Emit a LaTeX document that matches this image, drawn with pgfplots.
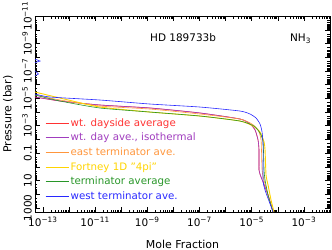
\documentclass[border=0pt]{standalone}
\usepackage{fontspec}
\setmainfont{DejaVu Sans}
\usepackage{pgfplots}
\pgfplotsset{compat=1.18}
\definecolor{cred}{RGB}{255,50,50}
\definecolor{cpurple}{RGB}{160,60,190}
\definecolor{corange}{RGB}{255,150,60}
\definecolor{cyellow}{RGB}{255,212,0}
\definecolor{cgreen}{RGB}{40,150,40}
\definecolor{cblue}{RGB}{40,40,255}
\begin{document}
\begin{tikzpicture}
\path[use as bounding box] (0,0) rectangle (332bp,250bp);
\begin{axis}[
  at={(35bp,38bp)}, anchor=south west,
  width=295bp, height=196bp, scale only axis,
  xmode=log, ymode=log,
  xmin=5e-14, xmax=1e-2, ymin=1e-11, ymax=2000,
  y dir=reverse,
  tick align=inside, xtick pos=both, ytick pos=both,
  major tick length=5bp, minor tick length=2.5bp,
  axis line style={line width=0.5pt},
  every tick/.style={black, line width=0.4pt},
  font=\fontsize{10.5}{12}\selectfont,
  xtick={1e-13,1e-12,1e-11,1e-10,1e-9,1e-8,1e-7,1e-6,1e-5,1e-4,1e-3,1e-2},
  xticklabels={{10\textsuperscript{−13}},{},{10\textsuperscript{−11}},{},{10\textsuperscript{−9}},{},{10\textsuperscript{−7}},{},{10\textsuperscript{−5}},{},{10\textsuperscript{−3}},{}},
  ytick={1e-11,1e-10,1e-9,1e-8,1e-7,1e-6,1e-5,1e-4,1e-3,1e-2,1e-1,1,10,100,1000},
  yticklabels={{10\textsuperscript{−11}},{},{10\textsuperscript{−9}},{},{10\textsuperscript{−7}},{},{10\textsuperscript{−5}},{},{10\textsuperscript{−3}},{},{0.1},{},{10},{},{1000}},
  yticklabel style={rotate=90, anchor=south, inner sep=0pt, yshift=3bp},
  xticklabel shift=2bp,
  every axis x label/.style={at={(axis description cs:0.5,0)}, anchor=north, yshift=-25bp},
  every axis y label/.style={at={(axis description cs:-0.092,0.5)}, rotate=90, anchor=center},
  xlabel={Mole Fraction},
  ylabel={Pressure (bar)},
  label style={font=\fontsize{11}{13}\selectfont},
  legend image code/.code={\draw[#1] (0bp,0bp) -- (23bp,0bp);},
  legend cell align=left,
  legend style={at={(axis description cs:0.034,0.487)}, anchor=north west, draw=none, fill=none,
    inner sep=0pt, row sep=2.4bp, font=\fontsize{10.3}{11}\selectfont,
    nodes={inner sep=1.5bp}},
  every axis plot/.append style={line width=0.6pt, smooth, tension=0.35},
]
\addplot[cred] coordinates {(5e-14,8.17e-6)(4.55e-13,1.6e-5)(1.55e-11,3.13e-5)(1.28e-9,5.19e-5)(1.05e-7,1.2e-4)(3.58e-6,3.3e-4)(8.65e-6,7.64e-4)(1.35e-5,2.09e-3)(1.75e-5,1.12e-2)(1.91e-5,6.04e-2)(1.91e-5,1.74)(2.29e-5,5.65)(2.73e-5,13.1)(4.24e-5,116)(6.59e-5,2000)};
\addlegendentry{\textcolor{cred}{wt. dayside average}}
\addplot[cpurple] coordinates {(5e-14,8.0e-6)(4.55e-13,1.58e-5)(1.55e-11,3.1e-5)(1.28e-9,5.1e-5)(1.05e-7,1.18e-4)(3.58e-6,3.25e-4)(8.65e-6,7.5e-4)(1.35e-5,2.05e-3)(1.75e-5,1.1e-2)(1.91e-5,6.0e-2)(1.91e-5,1.74)(2.29e-5,5.65)(2.73e-5,13.1)(4.24e-5,116)(6.59e-5,2000)};
\addlegendentry{\textcolor{cpurple}{wt. day ave., isothermal}}
\addplot[corange] coordinates {(5e-14,5.83e-6)(4.55e-13,1.35e-5)(1.55e-11,3.71e-5)(1.28e-9,6.14e-5)(1.05e-7,1.42e-4)(3.58e-6,3.3e-4)(1.03e-5,7.64e-4)(1.75e-5,2.09e-3)(2.29e-5,1.12e-2)(2.5e-5,1.74)(2.98e-5,9.35)(4.24e-5,116)(6.59e-5,2000)};
\addlegendentry{\textcolor{corange}{east terminator ave.}}
\addplot[cyellow, line width=0.9pt] coordinates {(5e-14,3.52e-6)(4.55e-13,9.66e-6)(1.55e-11,4.39e-5)(1.28e-9,1.02e-4)(1.05e-7,1.99e-4)(3.58e-6,4.61e-4)(1.13e-5,1.07e-3)(2.09e-5,2.93e-3)(2.98e-5,1.57e-2)(3.25e-5,6.04e-2)(3.55e-5,4.04)(4.24e-5,21.7)(5.52e-5,270)(7.2e-5,2000)};
\addlegendentry{\textcolor{cyellow}{Fortney 1D "4pi"}}
\addplot[cgreen] coordinates {(5e-14,5.83e-6)(4.55e-13,1.6e-5)(1.55e-11,5.19e-5)(1.28e-9,1.02e-4)(1.05e-7,1.99e-4)(3.58e-6,4.61e-4)(1.23e-5,1.07e-3)(2.09e-5,3.47e-3)(2.73e-5,1.57e-2)(2.98e-5,1.74)(3.25e-5,9.35)(4.24e-5,116)(6.59e-5,2000)};
\addlegendentry{\textcolor{cgreen}{terminator average}}
\addplot[cblue] coordinates {(5e-14,4.93e-6)(1.88e-13,8.17e-6)(1.55e-11,1.35e-5)(1.28e-9,2.65e-5)(1.05e-7,4.39e-5)(3.58e-6,8.59e-5)(8.65e-6,1.42e-4)(1.47e-5,2.79e-4)(2.09e-5,7.64e-4)(2.5e-5,2.93e-3)(2.73e-5,2.61e-2)(2.73e-5,9.35)(3.25e-5,50.2)(6.59e-5,2000)};
\addlegendentry{\textcolor{cblue}{west terminator ave.}}
\addplot[cblue, sharp plot, forget plot] coordinates {(5e-14,1.4e-8)(7.8e-14,1.93e-8)(5e-14,2.5e-8)};
\addplot[cblue, sharp plot, forget plot] coordinates {(5e-14,1.0e-7)(6.8e-14,1.7e-7)(5e-14,2.3e-7)};
\node[anchor=base, font=\fontsize{10.5}{12}\selectfont] at (axis description cs:0.502,0.87) {HD 189733b};
\node[anchor=base, font=\fontsize{10.5}{12}\selectfont] at (axis description cs:0.9,0.87) {NH\textsubscript{3}};
\end{axis}
\end{tikzpicture}
\end{document}
